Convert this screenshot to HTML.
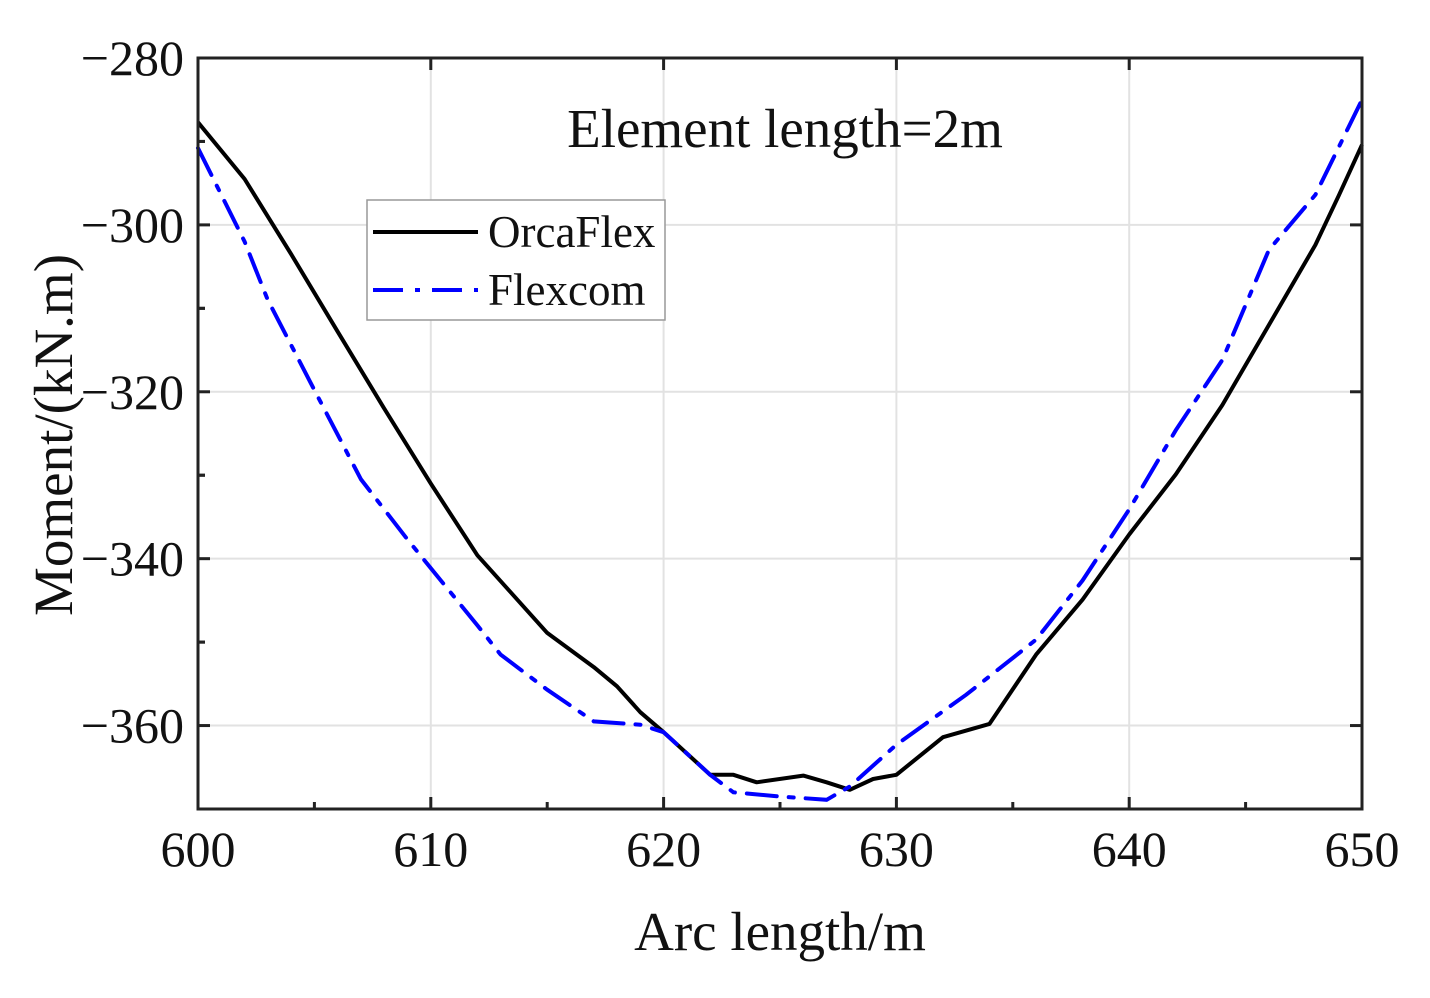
<!DOCTYPE html>
<html><head><meta charset="utf-8"><style>
body{margin:0;background:#fff}
svg text{font-family:"Liberation Serif",serif;fill:#111}
</style></head><body>
<svg id="chart" width="1430" height="993" xmlns="http://www.w3.org/2000/svg">
<g id="grid"></g>
<g id="series"></g>
<rect x="198" y="58" width="1164" height="751" fill="none" stroke="#222" stroke-width="3"/>
<g id="ticks"></g>
<text x="785" y="147" font-size="55" text-anchor="middle">Element length=2m</text>
<text x="780" y="950" font-size="55" text-anchor="middle">Arc length/m</text>
<text transform="translate(72,435) rotate(-90)" font-size="55" text-anchor="middle">Moment/(kN.m)</text>
<g>
<rect x="367" y="200" width="298" height="120" fill="#fff" stroke="#999" stroke-width="1.5"/>
<line x1="373" y1="232" x2="478" y2="232" stroke="#000" stroke-width="4"/>
<text x="488" y="247" font-size="45">OrcaFlex</text>
<line x1="373" y1="290" x2="478" y2="290" stroke="#0000ff" stroke-width="4" stroke-dasharray="30,12,5,12"/>
<text x="488" y="305" font-size="45">Flexcom</text>
</g>
</svg>
<script>
const xTicks=[600,610,620,630,640,650];
const yTicks=[-280,-300,-320,-340,-360];
const orcaX=[600,602,604,606,608,610,612,615,617,618,619,620,622,623,624,626,627,628,629,630,632,634,636,638,640,642,644,646,648,649,650];
const orcaY=[-287.7,-294.5,-303.5,-312.8,-322,-331,-339.6,-348.9,-353,-355.3,-358.4,-360.8,-365.9,-365.9,-366.8,-366,-366.8,-367.7,-366.4,-365.9,-361.4,-359.8,-351.5,-344.9,-337.1,-329.9,-321.6,-312,-302.4,-296.5,-290.4];
const flexX=[600,602,603,604,605,607,609,612,613,615,617,619,620,622,623,625,627,628,630,633,636,638,640,642,644,646,648,650];
const flexY=[-290.8,-302,-309,-314.4,-319.8,-330.5,-337.7,-348,-351.5,-355.7,-359.5,-359.9,-360.8,-365.9,-368,-368.5,-368.9,-367.3,-362.3,-356.3,-349.7,-342.6,-334.1,-324.6,-316.2,-303,-296.4,-285];
const X0=198,X1=1362,Y0=58,Y1=809,xmin=600,xmax=650,ymin=-370,ymax=-280;
const sx=v=>X0+(v-xmin)/(xmax-xmin)*(X1-X0);
const sy=v=>Y1-(v-ymin)/(ymax-ymin)*(Y1-Y0);
const NS="http://www.w3.org/2000/svg";
function mk(t,a,p){const e=document.createElementNS(NS,t);for(const k in a)e.setAttribute(k,a[k]);p.appendChild(e);return e;}
const grid=document.getElementById('grid'),ticks=document.getElementById('ticks'),series=document.getElementById('series');
xTicks.forEach((v,i)=>{
 const g=mk('line',{x1:sx(v),x2:sx(v),y1:Y0,y2:Y1,stroke:'#e2e2e2','stroke-width':2},grid);
 
 
 const t=mk('line',{x1:sx(v),x2:sx(v),y1:Y1,y2:Y1-12,stroke:'#222','stroke-width':3},ticks);
 
 
 const t2=mk('line',{x1:sx(v),x2:sx(v),y1:Y0,y2:Y0+12,stroke:'#222','stroke-width':3},ticks);
 
 
 if(i<xTicks.length-1){const m=sx(v+5);
  const mt=mk('line',{x1:m,x2:m,y1:Y1,y2:Y1-7,stroke:'#222','stroke-width':3},ticks);
  
  }
 const l=mk('text',{x:sx(v),y:Y1+57,'font-size':50,'text-anchor':'middle'},ticks);l.textContent=v;
 
 
});
yTicks.forEach(v=>{
 const g=mk('line',{x1:X0,x2:X1,y1:sy(v),y2:sy(v),stroke:'#e2e2e2','stroke-width':2},grid);
 
 
 const t=mk('line',{x1:X0,x2:X0+12,y1:sy(v),y2:sy(v),stroke:'#222','stroke-width':3},ticks);
 
 
 const t2=mk('line',{x1:X1,x2:X1-12,y1:sy(v),y2:sy(v),stroke:'#222','stroke-width':3},ticks);
 
 
 [10,-10].forEach(d=>{const m=sy(v+d);if(m>Y0&&m<Y1){
  const mt=mk('line',{x1:X0,x2:X0+7,y1:m,y2:m,stroke:'#222','stroke-width':3},ticks);
  
  }});
 const l=mk('text',{x:X0-14,y:sy(v)+17,'font-size':50,'text-anchor':'end'},ticks);l.textContent='\u2212'+Math.abs(v);
 
 
});
function path(xs,ys){return xs.map((x,i)=>(i?'L':'M')+sx(x).toFixed(1)+','+sy(ys[i]).toFixed(1)).join(' ');}
const p1=mk('path',{d:path(orcaX,orcaY),fill:'none',stroke:'#000','stroke-width':4,'stroke-linejoin':'round'},series);


const p2=mk('path',{d:path(flexX,flexY),fill:'none',stroke:'#0000ff','stroke-width':4,'stroke-dasharray':'30,12,5,12','stroke-linecap':'round'},series);


</script>
</body></html>
